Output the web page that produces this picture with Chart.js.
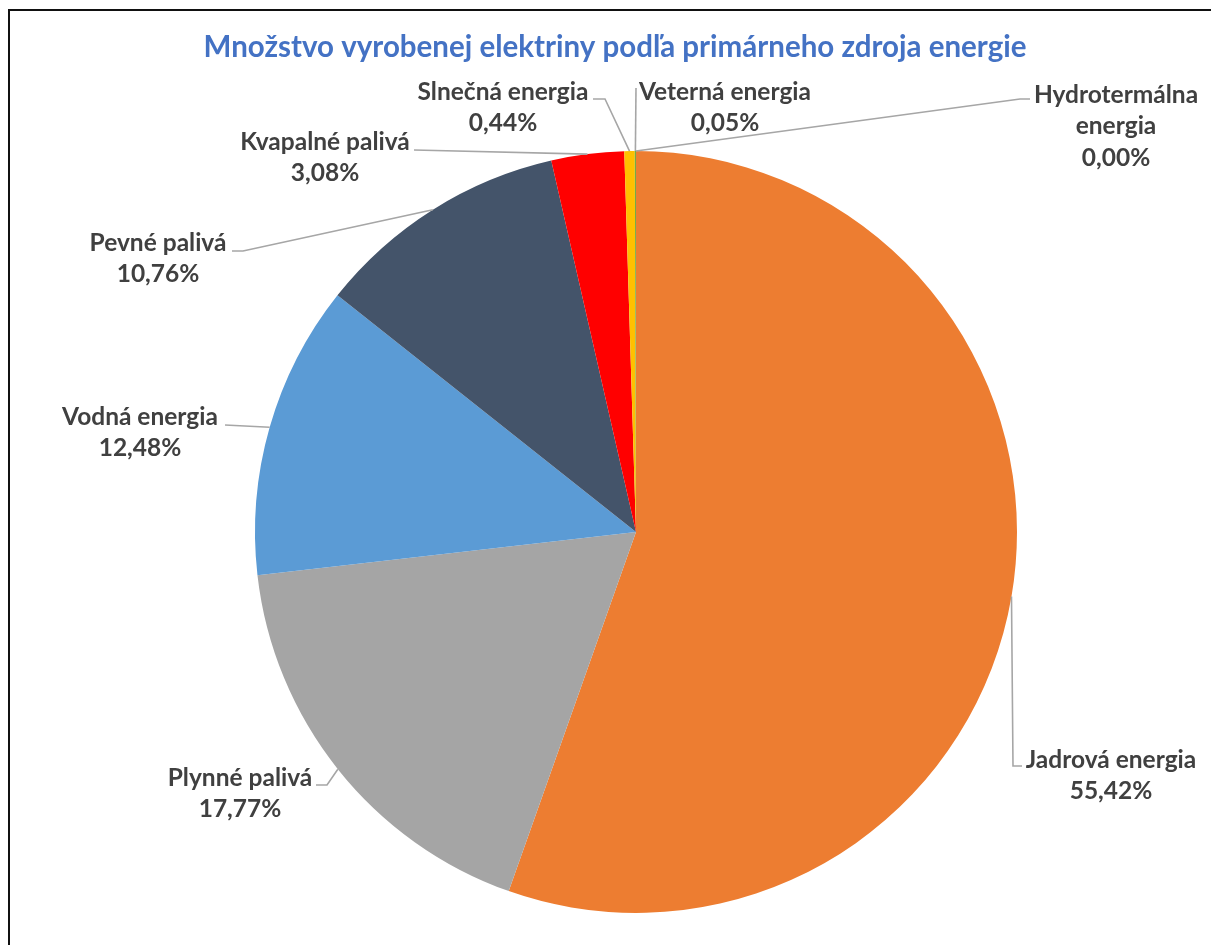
<!DOCTYPE html>
<html>
<head>
<meta charset="utf-8">
<script src="https://cdn.jsdelivr.net/npm/chart.js@4/dist/chart.umd.min.js"></script>
<style>
  html, body { margin: 0; padding: 0; background: #fff; overflow: hidden; }
  #wrap { position: relative; width: 1211px; height: 945px; }
  #frame { position: absolute; left: 8px; top: 9px; width: 1300px; height: 1000px;
           border-top: 2px solid #111; border-left: 2px solid #111; box-sizing: border-box; pointer-events: none; }
  canvas { position: absolute; left: 0; top: 0; }
</style>
</head>
<body>
<div id="wrap">
  <canvas id="c" width="1211" height="945"></canvas>
  <div id="frame"></div>
</div>
<script>
// ---- data ----
const title = 'Množstvo vyrobenej elektriny podľa primárneho zdroja energie';
const categories = ['Jadrová energia', 'Plynné palivá', 'Vodná energia', 'Pevné palivá',
                    'Kvapalné palivá', 'Slnečná energia', 'Veterná energia', 'Hydrotermálna energia'];
const shares = [55.42, 17.77, 12.48, 10.76, 3.08, 0.44, 0.05, 0.00];
const sliceColors = ['#ED7D31', '#A5A5A5', '#5B9BD5', '#44546A', '#FF0000', '#FFC000', '#70AD47', '#264478'];

// ---- label layout (text lines, text centre, leader-line path from label toward slice) ----
const labelLayout = [
  { lines: ['Jadrová energia'], cx: 1111, cy: 760, path: [[1022, 766], [1013, 766]] },
  { lines: ['Plynné palivá'],   cx: 240,  cy: 778, path: [[316, 785], [327, 785]] },
  { lines: ['Vodná energia'],   cx: 140,  cy: 417, path: [[225, 425]] },
  { lines: ['Pevné palivá'],    cx: 158,  cy: 243, path: [[232, 251], [243, 251]] },
  { lines: ['Kvapalné palivá'], cx: 325,  cy: 142, path: [[414, 150]] },
  { lines: ['Slnečná energia'], cx: 503,  cy: 92,  path: [[593, 99], [605, 99]] },
  { lines: ['Veterná energia'], cx: 725,  cy: 92,  path: [[636, 88]] },
  { lines: ['Hydrotermálna', 'energia'], cx: 1116, cy: 95, path: [[1030, 99], [1020, 99]] }
];

const fmt = v => v.toFixed(2).replace('.', ',') + '%';

const labelPlugin = {
  id: 'excelLabels',
  afterDatasetsDraw(chart) {
    const ctx = chart.ctx;
    const meta = chart.getDatasetMeta(0);
    ctx.save();
    // leader lines
    ctx.strokeStyle = '#A6A6A6';
    ctx.lineWidth = 1.6;
    meta.data.forEach((arc, i) => {
      const p = arc.getProps(['x', 'y', 'startAngle', 'endAngle', 'outerRadius'], true);
      const mid = (p.startAngle + p.endAngle) / 2;
      const ax = p.x + Math.cos(mid) * p.outerRadius;
      const ay = p.y + Math.sin(mid) * p.outerRadius;
      const L = labelLayout[i];
      ctx.beginPath();
      ctx.moveTo(L.path[0][0], L.path[0][1]);
      for (let k = 1; k < L.path.length; k++) ctx.lineTo(L.path[k][0], L.path[k][1]);
      ctx.lineTo(ax, ay);
      ctx.stroke();
    });
    // label texts
    ctx.fillStyle = '#404040';
    ctx.font = 'bold 24.5px Lato';
    ctx.textAlign = 'center';
    ctx.textBaseline = 'middle';
    const lh = 31.5;
    labelLayout.forEach((L, i) => {
      const all = L.lines.concat([fmt(chart.data.datasets[0].data[i])]);
      all.forEach((t, k) => ctx.fillText(t, L.cx, L.cy + k * lh));
    });
    // title
    ctx.fillStyle = '#4472C4';
    ctx.font = 'bold 29.5px Lato';
    ctx.fillText(title, 615, 47);
    ctx.restore();
  }
};

new Chart(document.getElementById('c'), {
  type: 'pie',
  data: {
    labels: categories,
    datasets: [{
      data: shares,
      backgroundColor: sliceColors,
      borderWidth: 0,
      offset: 0,
      hoverOffset: 0
    }]
  },
  options: {
    responsive: false,
    animation: false,
    events: [],
    layout: { padding: { top: 151, bottom: 32, left: 255, right: 194 } },
    plugins: { legend: { display: false }, tooltip: { enabled: false }, title: { display: false } }
  },
  plugins: [labelPlugin]
});
</script>
</body>
</html>
